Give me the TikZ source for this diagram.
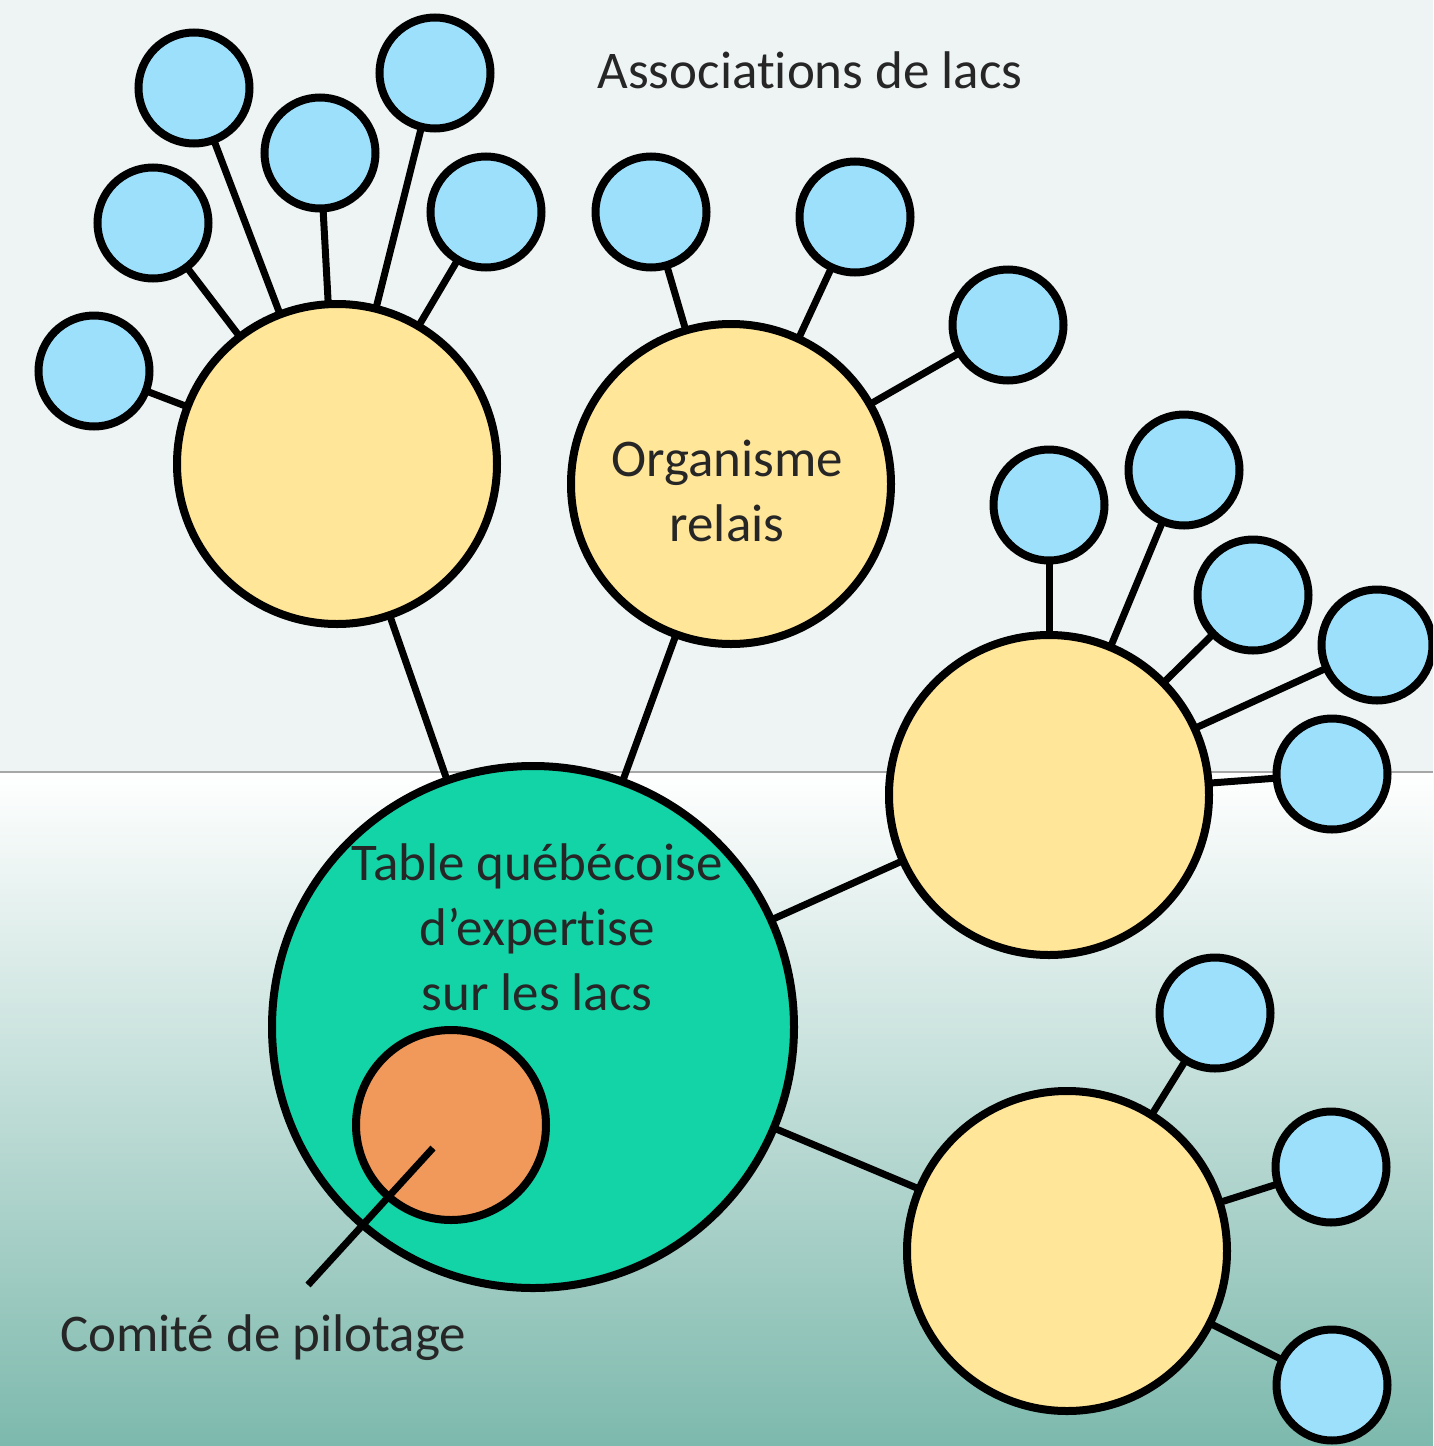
\documentclass[tikz,border=0pt]{standalone}
\usepackage{fontspec}
\setmainfont{Carlito}[Ligatures={NoCommon,NoContextual,NoRequired}, Contextuals={NoAlternate}]
\pgfdeclarelayer{back}
\pgfdeclarelayer{mid}
\pgfsetlayers{back,mid,main}
\definecolor{bluec}{HTML}{9DE0FC}
\definecolor{yellowc}{HTML}{FFE699}
\definecolor{greenc}{HTML}{13D4A7}
\definecolor{orangec}{HTML}{F0995A}
\definecolor{topbg}{HTML}{EEF4F4}
\definecolor{botbg}{HTML}{7DB9AD}
\definecolor{txt}{HTML}{262626}
\begin{document}
\begin{tikzpicture}[x=1pt,y=-1pt,
  lake/.style={circle, draw=black, line width=8pt, fill=bluec, minimum size=111pt, inner sep=0pt},
  relay/.style={circle, draw=black, line width=8pt, fill=yellowc, minimum size=320pt, inner sep=0pt},
  tablec/.style={circle, draw=black, line width=8pt, fill=greenc, minimum size=522pt, inner sep=0pt},
  comite/.style={circle, draw=black, line width=8pt, fill=orangec, minimum size=190pt, inner sep=0pt},
  link/.style={line width=7pt, draw=black, shorten <=-3pt, shorten >=-3pt},
  lbl/.style={text=txt, font=\fontsize{53}{65}\selectfont, align=center, inner sep=0pt}]
\clip (0,0) rectangle (1433,1446);
\begin{pgfonlayer}{back}
  \fill[topbg] (0,0) rectangle (1433,772);
  \shade[top color=white, bottom color=botbg] (0,772) rectangle (1433,1446);
  \draw[line width=1.5pt, color=black!35] (0,772) -- (1433,772);
\end{pgfonlayer}

% main circles
\node[tablec] (table) at (533,1027) {};
\node[comite] (comite) at (451,1125) {};
\node[relay] (y1) at (337,464) {};
\node[relay] (y2) at (731,484) {};
\node[relay] (y3) at (1049,795) {};
\node[relay] (y4) at (1067,1251) {};

% lakes
\node[lake] (b1) at (94,371) {};
\node[lake] (b2) at (153,223) {};
\node[lake] (b3) at (194,88) {};
\node[lake] (b4) at (320,153) {};
\node[lake] (b5) at (435,73) {};
\node[lake] (b6) at (486,212) {};
\node[lake] (b7) at (651,212) {};
\node[lake] (b8) at (855,217) {};
\node[lake] (b9) at (1008,325) {};
\node[lake] (b10) at (1049,505) {};
\node[lake] (b11) at (1184,470) {};
\node[lake] (b12) at (1253,595) {};
\node[lake] (b13) at (1377,645) {};
\node[lake] (b14) at (1332,774) {};
\node[lake] (b15) at (1215,1013) {};
\node[lake] (b16) at (1331,1167) {};
\node[lake] (b17) at (1332,1385) {};

\begin{pgfonlayer}{mid}
  \draw[link] (table) -- (y1);
  \draw[link] (table) -- (y2);
  \draw[link] (table) -- (y3);
  \draw[link] (table) -- (y4);
  \foreach \b in {b1,b2,b3,b4,b5,b6} \draw[link] (y1) -- (\b);
  \foreach \b in {b7,b8,b9} \draw[link] (y2) -- (\b);
  \foreach \b in {b10,b11,b12,b13,b14} \draw[link] (y3) -- (\b);
  \foreach \b in {b15,b16,b17} \draw[link] (y4) -- (\b);
\end{pgfonlayer}

% labels
\node[lbl] (assoc) at (810,70) {Associations de lacs};
\node[lbl] (orglbl) at (727,491) {Organisme\\relais};
\node[lbl] (tablelbl) at (537,927) {Table québécoise\\d’expertise\\sur les lacs};
\node[lbl] (comlbl) at (263,1338) {Comité de pilotage};

% pointer
\coordinate (cstart) at (433,1148);
\coordinate (cend) at (308,1285);
\draw[line width=7pt] (cstart) -- (cend);
\end{tikzpicture}
\end{document}
